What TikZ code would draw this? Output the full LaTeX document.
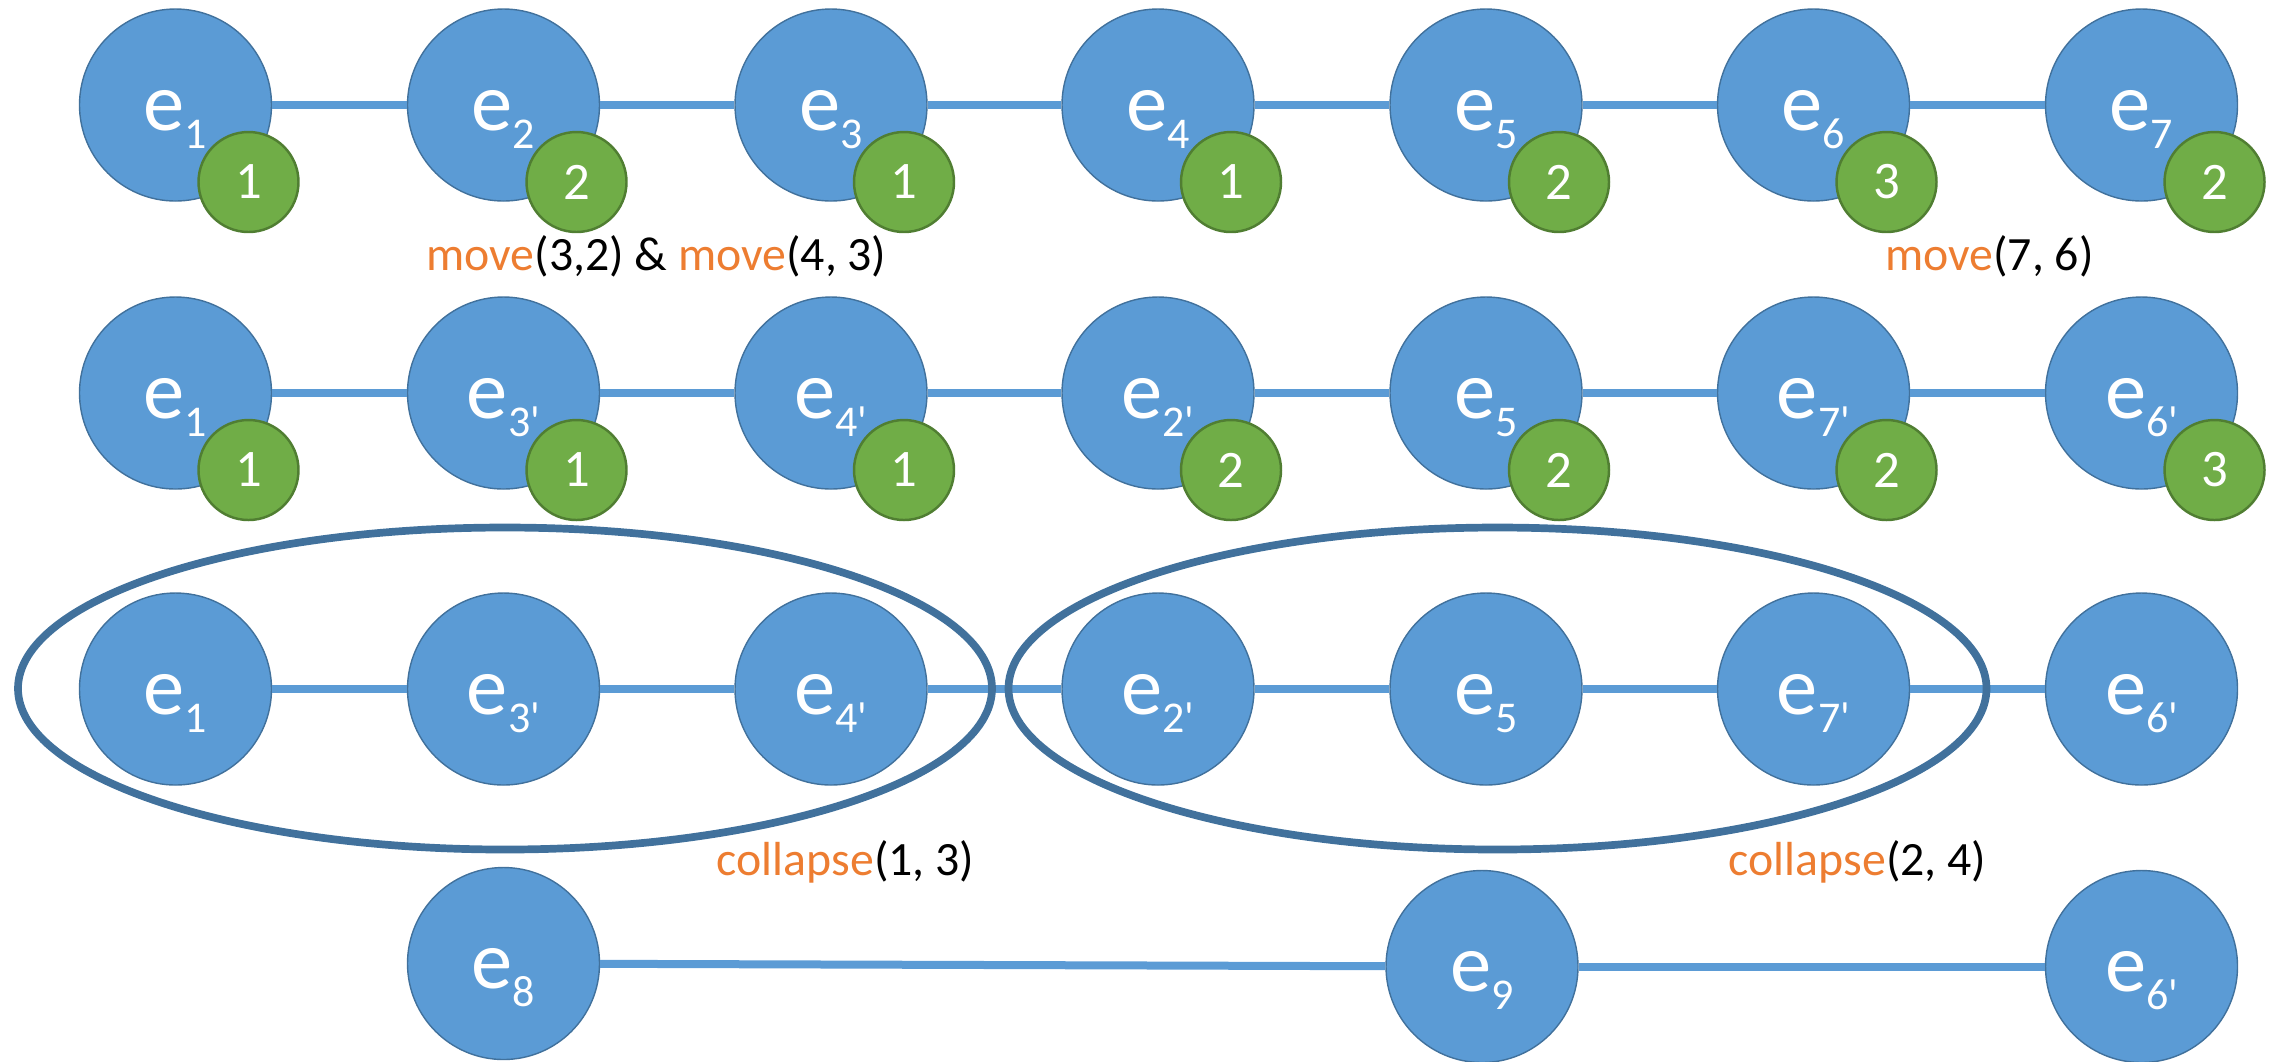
\documentclass[tikz,border=0pt]{standalone}
\usepackage{fontspec}
\setmainfont{Carlito}
\newfontfamily\primefont{Carlito} % no TeX ligatures, keeps ' straight

\definecolor{nodeblue}{HTML}{5B9BD5}
\definecolor{nodeedge}{HTML}{41719C}
\definecolor{badgegreen}{HTML}{70AD47}
\definecolor{badgeedge}{HTML}{507E32}
\definecolor{opcolor}{HTML}{ED7D31}

% e with a lowered index
\newcommand{\ent}[1]{e\raisebox{-0.18cm}{\primefont\fontsize{12.5}{12.5}\selectfont #1}}
\newcommand{\op}[1]{\textcolor{opcolor}{#1}}

\tikzset{
  entity/.style={circle, draw=nodeedge, line width=0.4pt, fill=nodeblue,
    minimum size=1.92cm, inner sep=0pt, text=white,
    font=\fontsize{23.5}{23.5}\selectfont, text height=0.5cm, text depth=0cm},
  badge/.style={circle, draw=badgeedge, line width=0.7pt, fill=badgegreen,
    minimum size=1.0cm, inner sep=0pt, text=white,
    font=\fontsize{15}{15}\selectfont},
  link/.style={draw=nodeblue, line width=0.08cm},
  group/.style={draw=nodeedge, line width=0.077cm},
  oplabel/.style={anchor=base, font=\fontsize{13.6}{13.6}\selectfont},
}

\begin{document}
\begin{tikzpicture}
\useasboundingbox (0,0) rectangle (22.72,-10.61);

% First row: original chain with ranks
\node[entity] (a1) at (1.755, -1.05) {\ent{1}};
\node[entity] (a2) at (5.035, -1.05) {\ent{2}};
\node[entity] (a3) at (8.31, -1.05) {\ent{3}};
\node[entity] (a4) at (11.58, -1.05) {\ent{4}};
\node[entity] (a5) at (14.86, -1.05) {\ent{5}};
\node[entity] (a6) at (18.135, -1.05) {\ent{6}};
\node[entity] (a7) at (21.415, -1.05) {\ent{7}};
\draw[link] (a1) -- (a2);
\draw[link] (a2) -- (a3);
\draw[link] (a3) -- (a4);
\draw[link] (a4) -- (a5);
\draw[link] (a5) -- (a6);
\draw[link] (a6) -- (a7);
\node[badge] (ra1) at (2.485, -1.82) {1};
\node[badge] (ra2) at (5.765, -1.82) {2};
\node[badge] (ra3) at (9.04, -1.82) {1};
\node[badge] (ra4) at (12.31, -1.82) {1};
\node[badge] (ra5) at (15.59, -1.82) {2};
\node[badge] (ra6) at (18.865, -1.82) {3};
\node[badge] (ra7) at (22.145, -1.82) {2};

\node[oplabel] (mv1) at (6.565, -2.70) {\op{move}(3,2) \& \op{move}(4, 3)};
\node[oplabel] (mv2) at (19.895, -2.70) {\op{move}(7, 6)};

% Second row: after the moves
\node[entity] (b1) at (1.755, -3.93) {\ent{1}};
\node[entity] (b2) at (5.035, -3.93) {\ent{3'}};
\node[entity] (b3) at (8.31, -3.93) {\ent{4'}};
\node[entity] (b4) at (11.58, -3.93) {\ent{2'}};
\node[entity] (b5) at (14.86, -3.93) {\ent{5}};
\node[entity] (b6) at (18.135, -3.93) {\ent{7'}};
\node[entity] (b7) at (21.415, -3.93) {\ent{6'}};
\draw[link] (b1) -- (b2);
\draw[link] (b2) -- (b3);
\draw[link] (b3) -- (b4);
\draw[link] (b4) -- (b5);
\draw[link] (b5) -- (b6);
\draw[link] (b6) -- (b7);
\node[badge] (rb1) at (2.485, -4.70) {1};
\node[badge] (rb2) at (5.765, -4.70) {1};
\node[badge] (rb3) at (9.04, -4.70) {1};
\node[badge] (rb4) at (12.31, -4.70) {2};
\node[badge] (rb5) at (15.59, -4.70) {2};
\node[badge] (rb6) at (18.865, -4.70) {2};
\node[badge] (rb7) at (22.145, -4.70) {3};

% Third row: groups to collapse
\node[entity] (c1) at (1.755, -6.89) {\ent{1}};
\node[entity] (c2) at (5.035, -6.89) {\ent{3'}};
\node[entity] (c3) at (8.31, -6.89) {\ent{4'}};
\node[entity] (c4) at (11.58, -6.89) {\ent{2'}};
\node[entity] (c5) at (14.86, -6.89) {\ent{5}};
\node[entity] (c6) at (18.135, -6.89) {\ent{7'}};
\node[entity] (c7) at (21.415, -6.89) {\ent{6'}};
\draw[link] (c1) -- (c2);
\draw[link] (c2) -- (c3);
\draw[link] (c3) -- (c4);
\draw[link] (c4) -- (c5);
\draw[link] (c5) -- (c6);
\draw[link] (c6) -- (c7);
\draw[group] (5.05, -6.885) ellipse [x radius=4.87, y radius=1.61];
\draw[group] (14.975, -6.885) ellipse [x radius=4.89, y radius=1.61];

\node[oplabel] (cl1) at (8.455, -8.75) {\op{collapse}(1, 3)};
\node[oplabel] (cl2) at (18.575, -8.75) {\op{collapse}(2, 4)};

% Last row: collapsed chain
\node[entity] (d1) at (5.035, -9.635) {\ent{8}};
\node[entity] (d2) at (14.82, -9.665) {\ent{9}};
\node[entity] (d3) at (21.415, -9.665) {\ent{6'}};
\draw[link] (d1) -- (d2);
\draw[link] (d2) -- (d3);
\end{tikzpicture}
\end{document}
